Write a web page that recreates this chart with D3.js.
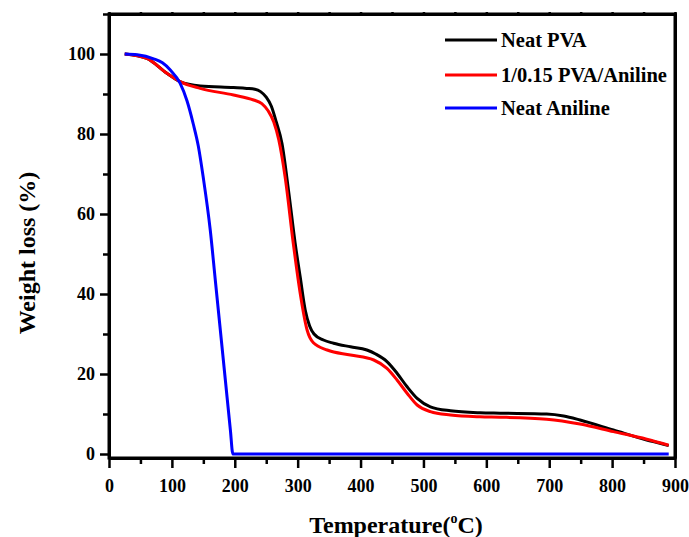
<!DOCTYPE html>
<html>
<head>
<meta charset="utf-8">
<script src="https://cdn.jsdelivr.net/npm/d3@7"></script>
<style>
  html, body { margin: 0; padding: 0; background: #fff; }
  svg { display: block; }
  text { font-family: "Liberation Serif", "Times New Roman", serif; font-weight: bold; fill: #000; }
</style>
</head>
<body>
<svg id="chart" width="689" height="537"></svg>
<script>
// Thermogravimetric curves: temperature (°C) vs. remaining weight (%)
const pvaTemp = [25, 60, 92, 113, 145, 198, 219, 232, 241, 250, 258, 266, 275, 286, 296, 304, 312, 319, 326, 341, 357, 384, 410, 424, 442, 458, 474, 490, 511, 543, 590, 622, 696, 723, 749, 802, 855, 876, 890];
const pvaWeight = [100, 98.9, 95.2, 93.1, 92.0, 91.6, 91.4, 91.2, 90.6, 89.2, 87.0, 83.0, 77.7, 65.2, 52.7, 44.3, 36.0, 32.0, 30.0, 28.5, 27.7, 26.8, 26.0, 25.0, 23.1, 20.2, 16.8, 13.9, 11.8, 10.8, 10.3, 10.2, 10.0, 9.5, 8.5, 6.0, 3.5, 2.7, 2.1];

const blendTemp = [25, 60, 92, 113, 145, 198, 230, 243, 253, 262, 270, 280, 293, 304, 315, 325, 347, 384, 421, 442, 458, 474, 490, 511, 543, 590, 622, 696, 749, 802, 855, 890];
const blendWeight = [100, 98.9, 95.2, 93.1, 91.4, 89.75, 88.5, 87.6, 85.8, 83.0, 78.5, 69.3, 52.7, 40.2, 31.0, 27.8, 26.0, 24.75, 23.5, 21.4, 18.5, 15.2, 12.25, 10.6, 9.75, 9.3, 9.2, 8.7, 7.5, 5.6, 3.7, 2.2];

const anilineTemp = [25, 45, 71, 85, 97.5, 113, 124, 134, 142, 150, 161, 169, 177, 185, 193, 197, 890];
const anilineWeight = [100, 99.8, 98.8, 97.8, 96.0, 92.7, 88.3, 82.5, 77.0, 69.0, 56.0, 43.5, 31.0, 18.5, 6.0, 0, 0];

const seriesNames = ["Neat PVA", "1/0.15 PVA/Aniline", "Neat Aniline"];
const seriesColors = ["#000000", "#ff0000", "#0000ff"];

const xTicks = [0, 100, 200, 300, 400, 500, 600, 700, 800, 900];
const xMinorTicks = [50, 150, 250, 350, 450, 550, 650, 750, 850];
const yTicks = [0, 20, 40, 60, 80, 100];
const yMinorTicks = [10, 30, 50, 70, 90, 110];

const svg = d3.select("#chart");
const plotLeft = 109, plotRight = 675, plotTop = 14, plotBottom = 458;

const x = d3.scaleLinear().domain([0, 900]).range([plotLeft, plotRight]);
const y = d3.scaleLinear().domain([-1, 110]).range([plotBottom, plotTop]);

const series = [
  { name: seriesNames[0], color: seriesColors[0], t: pvaTemp, w: pvaWeight },
  { name: seriesNames[1], color: seriesColors[1], t: blendTemp, w: blendWeight },
  { name: seriesNames[2], color: seriesColors[2], t: anilineTemp, w: anilineWeight }
];

const line = d3.line()
  .x(d => x(d[0]))
  .y(d => y(d[1]))
  .curve(d3.curveMonotoneX);

// curves
svg.append("g").selectAll("path")
  .data(series)
  .join("path")
  .attr("d", s => line(s.t.map((t, i) => [t, s.w[i]])))
  .attr("fill", "none")
  .attr("stroke", s => s.color)
  .attr("stroke-width", 3)
  .attr("stroke-linejoin", "round");

// axes
function styleAxis(g) {
  g.select(".domain").attr("stroke", "#000").attr("stroke-width", 3);
  g.selectAll(".tick line").attr("stroke", "#000").attr("stroke-width", 2.5);
}

const xAxis = svg.append("g")
  .attr("transform", `translate(0,${plotBottom})`)
  .call(d3.axisBottom(x).tickValues(xTicks).tickSize(10).tickPadding(11).tickSizeOuter(0))
  .call(styleAxis);
xAxis.selectAll("text").attr("font-size", 18).attr("font-family", "Liberation Serif").attr("font-weight", "bold");

svg.append("g")
  .attr("transform", `translate(0,${plotBottom})`)
  .call(d3.axisBottom(x).tickValues(xMinorTicks).tickSize(6).tickFormat("").tickSizeOuter(0))
  .call(styleAxis);

const yAxis = svg.append("g")
  .attr("transform", `translate(${plotLeft},0)`)
  .call(d3.axisLeft(y).tickValues(yTicks).tickSize(9).tickPadding(5).tickSizeOuter(0))
  .call(styleAxis);
yAxis.selectAll("text").attr("font-size", 18).attr("font-family", "Liberation Serif").attr("font-weight", "bold");

svg.append("g")
  .attr("transform", `translate(${plotLeft},0)`)
  .call(d3.axisLeft(y).tickValues(yMinorTicks).tickSize(6).tickFormat("").tickSizeOuter(0))
  .call(styleAxis);

// top and right frame with small ticks
svg.append("g")
  .attr("transform", `translate(0,${plotTop})`)
  .call(d3.axisTop(x).tickValues(xTicks.concat(xMinorTicks)).tickSize(2).tickFormat("").tickSizeOuter(0))
  .call(styleAxis);
svg.append("g")
  .attr("transform", `translate(${plotRight},0)`)
  .call(d3.axisRight(y).tickValues(yTicks.concat(yMinorTicks)).tickSize(2).tickFormat("").tickSizeOuter(0))
  .call(styleAxis);

// closed frame
svg.append("rect")
  .attr("x", plotLeft).attr("y", plotTop)
  .attr("width", plotRight - plotLeft).attr("height", plotBottom - plotTop)
  .attr("fill", "none").attr("stroke", "#000").attr("stroke-width", 3);

// axis titles
const xTitle = svg.append("text")
  .attr("x", 396).attr("y", 533)
  .attr("text-anchor", "middle")
  .attr("font-size", 24);
xTitle.append("tspan").text("Temperature(");
xTitle.append("tspan").attr("font-size", 14).attr("dy", -10).text("o");
xTitle.append("tspan").attr("dy", 10).text("C)");

svg.append("text")
  .attr("transform", "translate(35,253) rotate(-90)")
  .attr("text-anchor", "middle")
  .attr("font-size", 24)
  .text("Weight loss (%)");

// legend
const legend = svg.append("g");
const legendRows = [40, 75, 108];
series.forEach((s, i) => {
  legend.append("line")
    .attr("x1", 445).attr("x2", 497)
    .attr("y1", legendRows[i]).attr("y2", legendRows[i])
    .attr("stroke", s.color).attr("stroke-width", 3);
  legend.append("text")
    .attr("x", 501).attr("y", legendRows[i] + 7)
    .attr("font-size", 20.5)
    .text(s.name);
});
</script>
</body>
</html>
